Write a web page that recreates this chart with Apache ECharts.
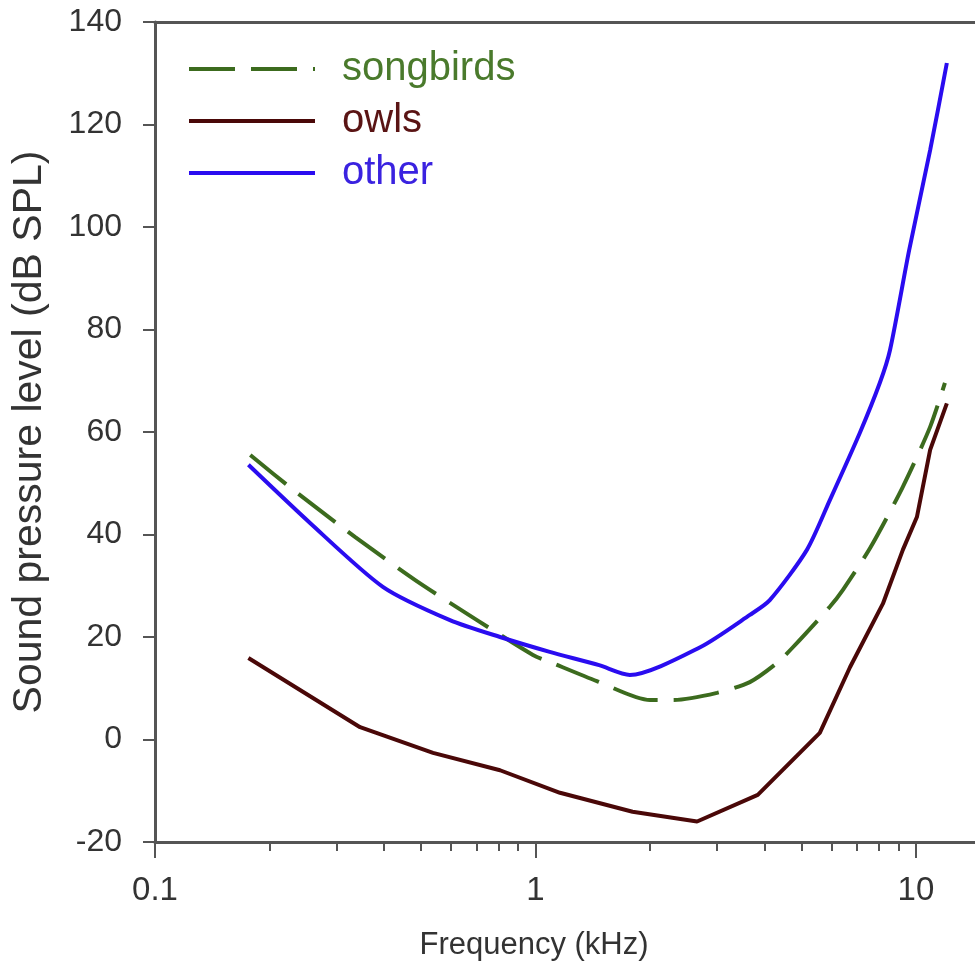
<!DOCTYPE html>
<html>
<head>
<meta charset="utf-8">
<script src="https://cdn.jsdelivr.net/npm/echarts@6/dist/echarts.min.js"></script>
<style>html,body{margin:0;padding:0;background:#fff;}#c{width:975px;height:972px;}</style>
</head>
<body>
<div id="c"></div>
<script>
// ---- data (frequency in kHz, threshold in dB SPL) ----
const songbirdsFreq = [0.178, 0.231, 0.336, 0.483, 0.702, 0.985, 1.11, 1.45, 2.0, 2.3, 3.0, 3.66, 4.31, 4.75, 5.94, 6.43, 7.6, 9.24, 10.9, 11.92];
const songbirdsSPL  = [55.5, 48.7, 39.5, 31.1, 23.3, 16.5, 14.9, 11.4, 7.7, 7.7, 9.1, 11.2, 14.9, 18.0, 25.9, 29.2, 37.5, 49.3, 61.0, 69.6];

const owlsFreq = [0.176, 0.346, 0.538, 0.807, 1.16, 1.8, 2.66, 3.84, 5.59, 6.71, 8.19, 9.24, 10.06, 10.9, 12.06];
const owlsSPL  = [15.9, 2.4, -2.6, -6.0, -10.4, -14.1, -16.0, -10.8, 1.3, 14.1, 26.5, 37.0, 43.4, 56.5, 65.6];

const otherFreq = [0.176, 0.256, 0.397, 0.596, 0.807, 1.09, 1.47, 1.77, 2.71, 3.66, 4.13, 5.17, 5.94, 7.12, 8.04, 8.55, 9.6, 10.9, 12.06];
const otherSPL  = [53.6, 42.2, 29.8, 23.3, 20.0, 17.1, 14.5, 12.6, 18.0, 24.3, 27.2, 37.0, 46.7, 59.8, 69.6, 76.0, 95.5, 115.0, 132.0];

const seriesNames = ['songbirds', 'owls', 'other'];
const majorTicks = [0.1, 1, 10];
const minorTicks = [0.2, 0.3, 0.4, 0.5, 0.6, 0.7, 0.8, 0.9, 2, 3, 4, 5, 6, 7, 8, 9];
const xRange = { min: 0.1, max: 14.3 };
const yTicks = { min: -20, max: 140, step: 20 };

const zip = (xs, ys) => xs.map((x, i) => [x, ys[i]]);

const C_GREEN = '#3c6b1e';
const C_OWL = '#4a0808';
const C_BLUE = '#2a0cf0';
const AXIS = '#555555';
const FONT = 'Liberation Sans, Arial, sans-serif';

const chart = echarts.init(document.getElementById('c'), null, { renderer: 'canvas' });
chart.setOption({
  animation: false,
  backgroundColor: '#ffffff',
  grid: { left: 155, top: 22, bottom: 130, right: 0, show: false },
  legend: {
    orient: 'vertical',
    left: 187, top: 49, padding: 0,
    itemWidth: 126, itemHeight: 14, itemGap: 12,
    data: [
      { name: seriesNames[0], textStyle: { color: '#4a7a2c' } },
      { name: seriesNames[1], textStyle: { color: '#5a1414' } },
      { name: seriesNames[2], textStyle: { color: '#3a22e0' } }
    ],
    itemStyle: { opacity: 0 },
    lineStyle: { width: 4 },
    textStyle: { fontFamily: FONT, fontSize: 40, lineHeight: 40, padding: [0, 0, 0, 22] }
  },
  xAxis: [
    {
      type: 'log', logBase: 10, min: xRange.min, max: xRange.max,
      position: 'bottom',
      name: 'Frequency (kHz)', nameLocation: 'middle', nameGap: 88,
      nameTextStyle: { fontFamily: FONT, fontSize: 31, color: '#333', padding: [0, 62, 0, 0] },
      axisLine: { show: true, onZero: false, lineStyle: { color: AXIS, width: 3 } },
      axisTick: { show: true, inside: false, length: 16, customValues: majorTicks, lineStyle: { color: AXIS, width: 2 } },
      axisLabel: { show: true, customValues: majorTicks, margin: 32, fontFamily: FONT, fontSize: 33, color: '#333',
        formatter: v => String(+(+v).toPrecision(3)) },
      splitLine: { show: false }
    },
    {
      type: 'log', logBase: 10, min: xRange.min, max: xRange.max, gridIndex: 0,
      position: 'bottom',
      axisLine: { show: false, onZero: false },
      axisTick: { show: true, inside: false, length: 9, customValues: minorTicks, lineStyle: { color: AXIS, width: 2 } },
      axisLabel: { show: false },
      splitLine: { show: false }
    },
    {
      type: 'log', logBase: 10, min: xRange.min, max: xRange.max, gridIndex: 0,
      position: 'top',
      axisLine: { show: true, onZero: false, lineStyle: { color: AXIS, width: 3 } },
      axisTick: { show: false },
      axisLabel: { show: false },
      splitLine: { show: false }
    }
  ],
  yAxis: {
    type: 'value', min: yTicks.min, max: yTicks.max, interval: yTicks.step,
    name: 'Sound pressure level (dB SPL)', nameLocation: 'middle', nameGap: 105,
    nameTextStyle: { fontFamily: FONT, fontSize: 41, color: '#333' },
    axisLine: { show: true, onZero: false, lineStyle: { color: AXIS, width: 3 } },
    axisTick: { show: true, inside: false, length: 12, lineStyle: { color: AXIS, width: 2 } },
    axisLabel: { margin: 33, fontFamily: FONT, fontSize: 32, color: '#333' },
    splitLine: { show: false }
  },
  series: [
    {
      name: seriesNames[0], type: 'line', xAxisIndex: 0, symbol: 'none', smooth: 0.25,
      data: zip(songbirdsFreq, songbirdsSPL),
      itemStyle: { color: C_GREEN },
      lineStyle: { color: C_GREEN, width: 4, type: [46, 16] },
      z: 3
    },
    {
      name: seriesNames[1], type: 'line', xAxisIndex: 0, symbol: 'none', smooth: false,
      data: zip(owlsFreq, owlsSPL),
      itemStyle: { color: C_OWL },
      lineStyle: { color: C_OWL, width: 4 },
      z: 3
    },
    {
      name: seriesNames[2], type: 'line', xAxisIndex: 0, symbol: 'none', smooth: 0.25,
      data: zip(otherFreq, otherSPL),
      itemStyle: { color: C_BLUE },
      lineStyle: { color: C_BLUE, width: 4 },
      z: 4
    }
  ]
});
</script>
</body>
</html>
